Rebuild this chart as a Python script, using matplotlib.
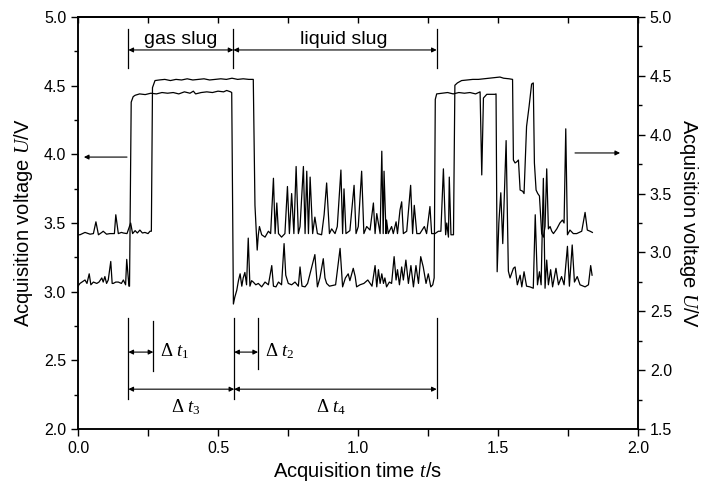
import matplotlib
matplotlib.use("Agg")
import matplotlib.pyplot as plt
from matplotlib.ticker import MultipleLocator

plt.rcParams['font.family'] = ['Liberation Sans', 'DejaVu Sans']
plt.rcParams['mathtext.fontset'] = 'custom'
plt.rcParams['mathtext.rm'] = 'Liberation Serif'
plt.rcParams['mathtext.it'] = 'Liberation Serif:italic'

# Signal 1 (left axis): time (s) and voltage (V)
t1 = [0.000, 0.007, 0.025, 0.032, 0.040, 0.046, 0.055, 0.067, 0.075, 0.085, 0.090, 0.096, 0.102, 0.108,
      0.117, 0.122, 0.126, 0.135, 0.144, 0.155, 0.162, 0.170, 0.174, 0.182, 0.184, 0.190, 0.197, 0.204,
      0.220, 0.240, 0.260, 0.280, 0.300, 0.320, 0.340, 0.360, 0.380, 0.400, 0.412, 0.420, 0.440, 0.460,
      0.480, 0.500, 0.520, 0.531, 0.545, 0.549, 0.555, 0.560, 0.567, 0.573, 0.579, 0.585, 0.590, 0.596,
      0.602, 0.608, 0.614, 0.620, 0.626, 0.635, 0.644, 0.656, 0.668, 0.680, 0.692, 0.698, 0.707, 0.716,
      0.727, 0.736, 0.742, 0.751, 0.763, 0.775, 0.787, 0.793, 0.800, 0.811, 0.820, 0.846, 0.855, 0.864,
      0.876, 0.882, 0.888, 0.898, 0.920, 0.936, 0.945, 0.955, 0.965, 0.971, 0.983, 0.990, 0.995, 1.007,
      1.021, 1.035, 1.050, 1.061, 1.067, 1.073, 1.079, 1.085, 1.091, 1.096, 1.102, 1.112, 1.120, 1.129,
      1.136, 1.141, 1.148, 1.156, 1.162, 1.171, 1.180, 1.189, 1.198, 1.207, 1.216, 1.224, 1.233, 1.243,
      1.251, 1.260, 1.267, 1.272, 1.276, 1.281, 1.300, 1.320, 1.340, 1.360, 1.380, 1.400, 1.420, 1.436,
      1.442, 1.448, 1.460, 1.489, 1.493, 1.497, 1.503, 1.510, 1.517, 1.529, 1.537, 1.543, 1.555, 1.561,
      1.569, 1.579, 1.585, 1.593, 1.602, 1.614, 1.626, 1.633, 1.641, 1.648, 1.654, 1.662, 1.668, 1.674,
      1.680, 1.688, 1.695, 1.707, 1.716, 1.727, 1.736, 1.748, 1.755, 1.765, 1.773, 1.783, 1.793, 1.811,
      1.823, 1.831, 1.836]
u1 = [3.04, 3.06, 3.085, 3.06, 3.13, 3.05, 3.07, 3.06, 3.07, 3.10, 3.07, 3.11, 3.06, 3.085,
      3.22, 3.06, 3.06, 3.07, 3.07, 3.06, 3.085, 3.05, 3.235, 3.04, 3.04, 4.38, 4.42, 4.43,
      4.44, 4.435, 4.445, 4.44, 4.45, 4.445, 4.45, 4.44, 4.455, 4.445, 4.46, 4.44, 4.45, 4.455,
      4.45, 4.46, 4.455, 4.465, 4.455, 4.45, 2.91, 2.96, 3.01, 3.08, 3.13, 3.04, 3.10, 3.14,
      3.05, 3.39, 3.04, 3.08, 3.07, 3.05, 3.06, 3.035, 3.07, 3.05, 3.19, 3.04, 3.035, 3.07,
      3.05, 3.35, 3.12, 3.06, 3.05, 3.07, 3.04, 3.18, 3.04, 3.035, 3.06, 3.27, 3.035, 3.10,
      3.24, 3.10, 3.06, 3.04, 3.05, 3.315, 3.035, 3.10, 3.13, 3.08, 3.17, 3.11, 3.035, 3.05,
      3.06, 3.085, 3.04, 3.19, 3.035, 3.16, 3.06, 3.13, 3.06, 3.10, 3.035, 3.07, 3.06, 3.255,
      3.085, 3.16, 3.05, 3.18, 3.085, 3.23, 3.06, 3.19, 3.035, 3.19, 3.06, 3.255, 3.18, 3.06,
      3.13, 3.035, 3.05, 3.10, 4.40, 4.44, 4.445, 4.45, 4.44, 4.45, 4.445, 4.45, 4.44, 4.455,
      3.85, 4.41, 4.437, 4.437, 4.44, 3.145, 3.50, 3.72, 3.35, 4.10, 3.15, 3.10, 3.17, 3.18,
      3.05, 3.12, 3.035, 3.145, 3.04, 3.035, 3.025, 3.56, 3.05, 3.145, 3.05, 3.825, 3.025, 3.23,
      3.05, 3.16, 3.035, 3.17, 3.05, 3.11, 3.05, 3.33, 3.04, 3.34, 3.07, 3.11, 3.05, 3.035,
      3.05, 3.19, 3.12]

# Signal 2 (right axis): time (s) and voltage (V)
t2 = [0.000, 0.007, 0.025, 0.043, 0.055, 0.064, 0.073, 0.085, 0.090, 0.102, 0.114, 0.130, 0.135, 0.144,
      0.155, 0.162, 0.175, 0.188, 0.195, 0.204, 0.212, 0.221, 0.230, 0.239, 0.250, 0.257, 0.262, 0.266,
      0.275, 0.290, 0.310, 0.330, 0.350, 0.370, 0.390, 0.410, 0.430, 0.450, 0.470, 0.490, 0.510, 0.530,
      0.550, 0.570, 0.590, 0.610, 0.626, 0.632, 0.640, 0.644, 0.648, 0.656, 0.668, 0.680, 0.688, 0.698,
      0.704, 0.710, 0.716, 0.727, 0.739, 0.748, 0.755, 0.763, 0.771, 0.779, 0.787, 0.793, 0.805, 0.811,
      0.817, 0.823, 0.829, 0.838, 0.846, 0.855, 0.870, 0.879, 0.888, 0.898, 0.906, 0.918, 0.926, 0.939,
      0.945, 0.950, 0.957, 0.971, 0.986, 0.993, 1.001, 1.013, 1.021, 1.031, 1.043, 1.055, 1.061, 1.067,
      1.079, 1.085, 1.090, 1.093, 1.100, 1.102, 1.108, 1.120, 1.126, 1.136, 1.141, 1.150, 1.156, 1.162,
      1.174, 1.188, 1.195, 1.201, 1.210, 1.221, 1.237, 1.245, 1.257, 1.263, 1.275, 1.287, 1.296, 1.305,
      1.313, 1.317, 1.323, 1.326, 1.332, 1.341, 1.346, 1.355, 1.370, 1.390, 1.410, 1.430, 1.450, 1.470,
      1.490, 1.507, 1.520, 1.540, 1.552, 1.555, 1.561, 1.567, 1.573, 1.579, 1.588, 1.593, 1.602, 1.611,
      1.620, 1.626, 1.630, 1.636, 1.642, 1.648, 1.656, 1.662, 1.668, 1.674, 1.680, 1.686, 1.692, 1.698,
      1.710, 1.721, 1.730, 1.736, 1.742, 1.748, 1.757, 1.769, 1.781, 1.799, 1.811, 1.819, 1.829, 1.837]
u2 = [3.15, 3.15, 3.17, 3.155, 3.16, 3.26, 3.15, 3.17, 3.18, 3.155, 3.16, 3.16, 3.32, 3.16,
      3.17, 3.165, 3.16, 3.25, 3.16, 3.185, 3.165, 3.19, 3.165, 3.17, 3.16, 3.18, 3.18, 4.40,
      4.46, 4.465, 4.47, 4.46, 4.47, 4.465, 4.475, 4.465, 4.47, 4.475, 4.465, 4.47, 4.475, 4.47,
      4.48, 4.47, 4.475, 4.47, 4.47, 3.40, 3.02, 3.15, 3.22, 3.15, 3.13, 3.18, 3.16, 3.63,
      3.16, 3.42, 3.16, 3.13, 3.16, 3.56, 3.16, 3.50, 3.16, 3.73, 3.16, 3.22, 3.73, 3.16,
      3.69, 3.16, 3.64, 3.16, 3.30, 3.16, 3.15, 3.32, 3.59, 3.16, 3.20, 3.16, 3.22, 3.70,
      3.16, 3.54, 3.16, 3.185, 3.57, 3.16, 3.22, 3.69, 3.16, 3.22, 3.19, 3.42, 3.16, 3.33,
      3.16, 3.86, 3.16, 3.69, 3.16, 3.275, 3.16, 3.22, 3.16, 3.26, 3.16, 3.36, 3.43, 3.16,
      3.18, 3.57, 3.16, 3.40, 3.16, 3.16, 3.22, 3.16, 3.39, 3.16, 3.16, 3.18, 3.18, 3.71,
      3.15, 3.25, 3.13, 3.64, 3.15, 3.15, 4.42, 4.44, 4.46, 4.465, 4.47, 4.47, 4.475, 4.48,
      4.485, 4.49, 4.48, 4.475, 4.47, 3.785, 3.76, 3.77, 3.785, 3.53, 3.52, 3.50, 4.07, 4.24,
      4.43, 4.44, 3.76, 3.53, 3.50, 3.48, 3.16, 3.13, 3.22, 3.71, 3.20, 3.22, 3.18, 3.16,
      3.20, 3.25, 3.275, 3.25, 4.05, 3.15, 3.19, 3.16, 3.16, 3.18, 3.34, 3.19, 3.18, 3.17]

W, H = 708, 484
fig = plt.figure(figsize=(W / 100, H / 100), dpi=100)
ax = fig.add_axes([78 / W, 1 - 429 / H, (638 - 78) / W, (429 - 17) / H])
ax2 = ax.twinx()

lw = 0.9
ax.plot(t1, u1, color='black', lw=lw)
ax2.plot(t2, u2, color='black', lw=lw)

ax.set_xlim(0, 2.0)
ax.set_ylim(2.0, 5.0)
ax2.set_ylim(1.5, 5.0)

ax.xaxis.set_major_locator(MultipleLocator(0.5))
ax.xaxis.set_minor_locator(MultipleLocator(0.25))
ax.yaxis.set_major_locator(MultipleLocator(0.5))
ax.yaxis.set_minor_locator(MultipleLocator(0.25))
ax2.yaxis.set_major_locator(MultipleLocator(0.5))
ax2.yaxis.set_minor_locator(MultipleLocator(0.25))
ax.xaxis.set_major_formatter(plt.FormatStrFormatter('%.1f'))
ax.yaxis.set_major_formatter(plt.FormatStrFormatter('%.1f'))
ax2.yaxis.set_major_formatter(plt.FormatStrFormatter('%.1f'))

ax.tick_params(axis='both', which='major', direction='out', length=5, width=1, labelsize=11.5)
ax.tick_params(axis='both', which='minor', direction='out', length=3, width=1)
ax.tick_params(axis='x', which='both', length=5, top=False)
ax2.tick_params(axis='y', which='major', direction='out', length=5, width=1, labelsize=11.5)
ax2.tick_params(axis='y', which='minor', direction='out', length=3, width=1)

# inward ticks on the top spine
axt = ax.secondary_xaxis('top')
axt.xaxis.set_major_locator(MultipleLocator(0.25))
axt.tick_params(direction='in', length=4, width=1, labeltop=False)

for a in (ax, ax2):
    for s in a.spines.values():
        s.set_linewidth(1.1)
axt.spines['top'].set_linewidth(1.1)

ax.set_xlabel('Acquisition time $\\mathit{t}$/s', fontsize=14.5, labelpad=3)
ax.set_ylabel('Acquisition voltage $\\mathit{U}$/V', fontsize=14.5, labelpad=6)
ax2.set_ylabel('Acquisition voltage $\\mathit{U}$/V', fontsize=14.5, rotation=270, labelpad=20)

# annotation geometry (data coordinates, left axis)
xa, xb, xc = 0.180, 0.555, 1.281
xd1, xd2 = 0.269, 0.643

def darrow(x0, x1, y):
    ax.annotate('', xy=(x1, y), xytext=(x0, y),
                arrowprops=dict(arrowstyle='<|-|>', color='black', lw=0.8,
                                mutation_scale=7, shrinkA=0, shrinkB=0))

def sarrow(x0, x1, y):
    ax.annotate('', xy=(x1, y), xytext=(x0, y),
                arrowprops=dict(arrowstyle='-|>', color='black', lw=0.8,
                                mutation_scale=7, shrinkA=0, shrinkB=0))

# top: gas slug / liquid slug
for x in (xa, xb, xc):
    ax.plot([x, x], [4.63, 4.91], color='black', lw=0.9)
darrow(xa, xb, 4.76)
darrow(xb, xc, 4.76)
ax.text((xa + xb) / 2, 4.775, 'gas slug', ha='center', va='bottom', fontsize=14)
ax.text(0.95, 4.775, 'liquid slug', ha='center', va='bottom', fontsize=14)

# bottom: delta t markers
ax.plot([xa, xa], [2.22, 2.81], color='black', lw=0.9)
ax.plot([xb + 0.003, xb + 0.003], [2.22, 2.81], color='black', lw=0.9)
ax.plot([xc, xc], [2.225, 2.81], color='black', lw=0.9)
ax.plot([xd1, xd1], [2.42, 2.79], color='black', lw=0.9)
ax.plot([xd2, xd2], [2.44, 2.81], color='black', lw=0.9)
darrow(xa, xd1, 2.56)
darrow(xb + 0.003, xd2, 2.56)
darrow(xa, xb + 0.003, 2.29)
darrow(xb + 0.003, xc, 2.29)
dkw = dict(fontsize=13.5, va='center')
ax.text(0.292, 2.57, '$\\mathit{\\Delta}\\ \\mathit{t}_{\\mathit{1}}$', ha='left', **dkw)
ax.text(0.668, 2.57, '$\\mathit{\\Delta}\\ \\mathit{t}_{\\mathit{2}}$', ha='left', **dkw)
ax.text(0.385, 2.16, '$\\mathit{\\Delta}\\ \\mathit{t}_{\\mathit{3}}$', ha='center', **dkw)
ax.text(0.905, 2.16, '$\\mathit{\\Delta}\\ \\mathit{t}_{\\mathit{4}}$', ha='center', **dkw)

# axis-indicating arrows
sarrow(0.175, 0.021, 3.98)
sarrow(1.775, 1.936, 4.01)

fig.savefig('out.png', dpi=100)
